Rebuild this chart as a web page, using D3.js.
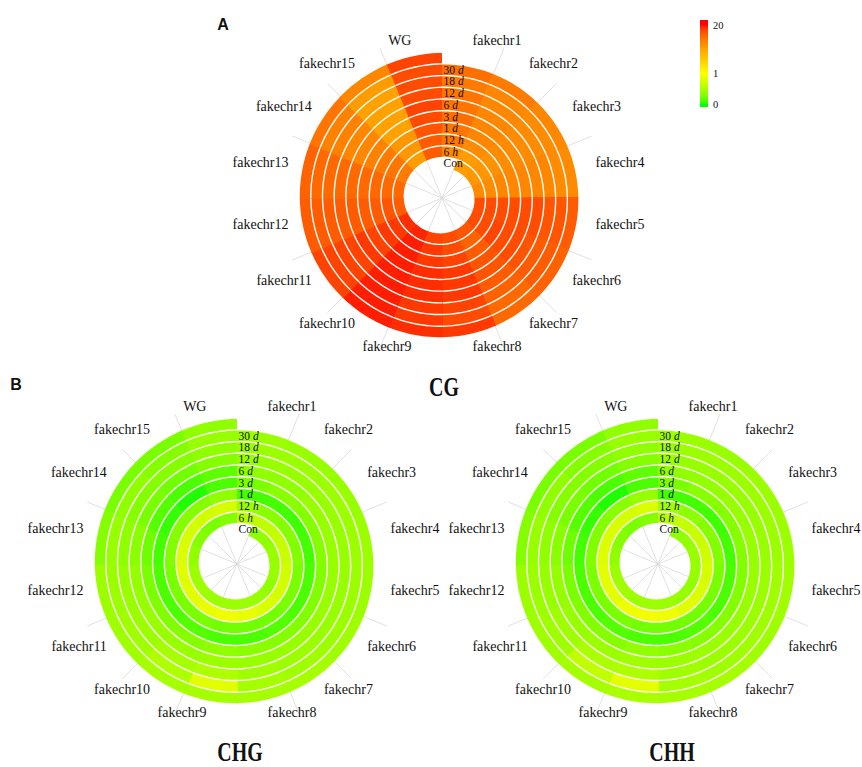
<!DOCTYPE html>
<html>
<head>
<meta charset="utf-8">
<script src="https://cdn.jsdelivr.net/npm/d3@7"></script>
<style>
  body { margin: 0; background: #fff; }
  text { font-family: "Liberation Serif", "Times New Roman", serif; fill: #111; }
</style>
</head>
<body>
<svg id="fig" width="862" height="767"></svg>
<script>
// categories
const chroms = ['WG', 'fakechr1', 'fakechr2', 'fakechr3', 'fakechr4', 'fakechr5', 'fakechr6', 'fakechr7',
  'fakechr8', 'fakechr9', 'fakechr10', 'fakechr11', 'fakechr12', 'fakechr13', 'fakechr14', 'fakechr15'];
const times = [['Con', ''], ['6 ', 'h'], ['12 ', 'h'], ['1 ', 'd'], ['3 ', 'd'], ['6 ', 'd'], ['12 ', 'd'], ['18 ', 'd'], ['30 ', 'd']];
const legendTicks = [0, 1, 20];

// CG, one array per time point, values in chroms order
const cgCon = [16.5, null, 11, 11.5, 12.5, 17.5, 17.5, 17, 17.5, 18, 19.3, 19, 16.5, 15.5, 14, 11];
const cg6h  = [16.5, 13, 11, 11.5, 12.5, 17.5, 17.5, 16, 17.5, 18.5, 19.5, 18.5, 17, 15.5, 14.5, 11.5];
const cg12h = [17, 14.5, 12.5, 12, 13, 17.5, 18, 16.5, 18, 18.5, 19.5, 18.5, 16.5, 15.5, 14, 11.5];
const cg1d  = [17.5, 14.5, 13, 12.5, 13, 17.5, 17.5, 17, 18.5, 19, 19.5, 18, 16.5, 15.5, 13.5, 10.5];
const cg3d  = [18, 15, 13, 12.5, 13, 17.5, 17.5, 17, 18.5, 19, 19.5, 18.5, 16.5, 15.5, 13, 10.5];
const cg6d  = [17.5, 14.5, 13, 12.5, 13, 17.5, 17, 16.5, 18.5, 19, 19.5, 18, 16.5, 15.5, 13, 10.5];
const cg12d = [17.5, 14.5, 13, 12.5, 13, 17, 16.5, 16, 18, 18.5, 19.5, 18, 16.5, 15.5, 13.5, 10.5];
const cg18d = [17.5, 14, 13, 12.5, 12.5, 17, 16.5, 15.5, 17.5, 18.5, 19.5, 18, 16.5, 15.5, 13.5, 11];
const cg30d = [18, 15, 14, 13, 12.5, 16.5, 16, 15.5, 18.5, 19, 19.5, 18, 16.5, 16, 14.5, 13];

// CHG
const chgCon = [0.3, null, 0.35, 0.35, 0.38, 0.38, 0.35, 0.38, 0.4, 0.4, 0.4, 0.42, 0.4, 0.35, 0.3, 0.25];
const chg6h  = [0.72, 0.55, 0.6, 0.62, 0.65, 0.7, 0.72, 0.75, 0.85, 0.9, 0.85, 0.8, 0.78, 0.75, 0.72, 0.7];
const chg12h = [0.35, 0.4, 0.32, 0.3, 0.28, 0.25, 0.25, 0.22, 0.22, 0.22, 0.25, 0.25, 0.25, 0.28, 0.3, 0.3];
const chg1d  = [0.1, 0.08, 0.08, 0.07, 0.08, 0.1, 0.1, 0.12, 0.1, 0.1, 0.12, 0.1, 0.1, 0.08, 0.05, 0.02];
const chg3d  = [0.15, 0.25, 0.32, 0.3, 0.3, 0.28, 0.28, 0.3, 0.32, 0.35, 0.3, 0.28, 0.25, 0.2, 0.12, 0.1];
const chg6d  = [0.3, 0.35, 0.35, 0.38, 0.38, 0.38, 0.38, 0.38, 0.38, 0.4, 0.38, 0.38, 0.36, 0.32, 0.25, 0.22];
const chg12d = [0.35, 0.38, 0.38, 0.38, 0.38, 0.38, 0.38, 0.4, 0.42, 0.5, 0.45, 0.4, 0.38, 0.35, 0.3, 0.3];
const chg18d = [0.38, 0.4, 0.4, 0.4, 0.4, 0.4, 0.4, 0.42, 0.45, 0.8, 0.5, 0.42, 0.4, 0.38, 0.35, 0.3];
const chg30d = [0.35, 0.4, 0.38, 0.38, 0.4, 0.4, 0.42, 0.45, 0.45, 0.45, 0.45, 0.42, 0.4, 0.3, 0.25, 0.25];

// CHH
const chhCon = [0.3, null, 0.35, 0.36, 0.38, 0.38, 0.36, 0.38, 0.4, 0.42, 0.4, 0.42, 0.4, 0.35, 0.3, 0.25];
const chh6h  = [0.75, 0.55, 0.62, 0.65, 0.68, 0.72, 0.75, 0.8, 0.88, 0.92, 0.88, 0.82, 0.8, 0.78, 0.75, 0.72];
const chh12h = [0.38, 0.42, 0.33, 0.3, 0.28, 0.25, 0.24, 0.22, 0.22, 0.22, 0.25, 0.25, 0.26, 0.28, 0.3, 0.32];
const chh1d  = [0.1, 0.08, 0.08, 0.07, 0.08, 0.1, 0.1, 0.12, 0.1, 0.1, 0.12, 0.1, 0.1, 0.08, 0.05, 0.02];
const chh3d  = [0.15, 0.25, 0.32, 0.3, 0.3, 0.28, 0.3, 0.3, 0.32, 0.35, 0.3, 0.28, 0.25, 0.2, 0.12, 0.1];
const chh6d  = [0.3, 0.35, 0.36, 0.38, 0.38, 0.38, 0.38, 0.4, 0.4, 0.42, 0.4, 0.38, 0.36, 0.32, 0.25, 0.22];
const chh12d = [0.35, 0.38, 0.38, 0.38, 0.38, 0.4, 0.4, 0.4, 0.42, 0.5, 0.48, 0.42, 0.38, 0.35, 0.3, 0.3];
const chh18d = [0.38, 0.4, 0.4, 0.4, 0.4, 0.42, 0.42, 0.42, 0.45, 0.82, 0.6, 0.42, 0.4, 0.38, 0.35, 0.3];
const chh30d = [0.35, 0.4, 0.38, 0.4, 0.4, 0.42, 0.42, 0.45, 0.45, 0.48, 0.45, 0.42, 0.4, 0.3, 0.25, 0.25];

const panels = [
  { title: 'CG', cx: 442, cy: 198, tx: 444, ty: 387, rows: [cgCon, cg6h, cg12h, cg1d, cg3d, cg6d, cg12d, cg18d, cg30d] },
  { title: 'CHG', cx: 237, cy: 564, tx: 240, ty: 752, rows: [chgCon, chg6h, chg12h, chg1d, chg3d, chg6d, chg12d, chg18d, chg30d] },
  { title: 'CHH', cx: 658, cy: 564, tx: 672, ty: 752, rows: [chhCon, chh6h, chh12h, chh1d, chh3d, chh6d, chh12d, chh18d, chh30d] }
];

const r0 = 28.8, pitch = 11.7, gap = 1.4;
const labelR = 156.5, spokeR = 162;
const n = chroms.length;

const svg = d3.select('#fig');
const color = d3.scaleLinear().domain([0, 1, 20]).range(['#00ff00', '#ffff00', '#ff0000'])
  .interpolate(d3.interpolateLab).clamp(true);
const angle = d3.scaleLinear().domain([0, n]).range([0, 2 * Math.PI]);
const radius = d3.scaleLinear().domain([0, times.length + 1]).range([r0, r0 + pitch * (times.length + 1)]);
// WG closes each turn, fakechr1 opens it
const slot = i => (i + n - 1) % n;

function drawSpiral(p) {
  const g = svg.append('g').attr('transform', `translate(${p.cx},${p.cy})`);

  // polar lines
  const spokes = d3.range(n).filter(k => k % 4 !== 0);
  g.append('g').selectAll('line').data(spokes).join('line')
    .attr('x1', 0).attr('y1', 0)
    .attr('x2', k => spokeR * Math.sin(angle(k)))
    .attr('y2', k => -spokeR * Math.cos(angle(k)))
    .attr('stroke', '#d9d9d9').attr('stroke-width', 0.8);

  const cells = [];
  p.rows.forEach((vals, ti) => vals.forEach((v, ci) => {
    if (v != null) cells.push({ ti, s: slot(ci), v });
  }));

  const cellPath = d => {
    const start = d.s === 0 ? 0 : d.s - 0.02;
    const pts = d3.range(0, 13).map(k => start + (d.s + 1 - start) * k / 12);
    return d3.areaRadial()
      .angle(t => angle(t))
      .innerRadius(t => radius(d.ti + t / n) + gap / 2)
      .outerRadius(t => radius(d.ti + 1 + t / n) - gap / 2)(pts);
  };

  g.append('g').selectAll('path').data(cells).join('path')
    .attr('d', cellPath)
    .attr('fill', d => color(d.v));

  // row labels at the start of each turn
  const rl = g.append('g').selectAll('text').data(times).join('text')
    .attr('x', 1.5)
    .attr('y', (d, i) => -radius(i + 0.5))
    .attr('dominant-baseline', 'central')
    .style('font-size', '11.5px');
  rl.append('tspan').text(d => d[0]);
  rl.append('tspan').style('font-style', 'italic').text(d => d[1]);

  // chromosome labels
  g.append('g').selectAll('text').data(chroms).join('text')
    .attr('x', (d, i) => labelR * Math.sin(angle(slot(i) + 0.5)))
    .attr('y', (d, i) => -4.5 - labelR * Math.cos(angle(slot(i) + 0.5)))
    .attr('text-anchor', (d, i) => Math.sin(angle(slot(i) + 0.5)) > 0 ? 'start' : 'end')
    .attr('dominant-baseline', 'central')
    .style('font-size', '14px')
    .text(d => d);

  svg.append('text')
    .attr('transform', `translate(${p.tx},${p.ty}) scale(0.74,1)`)
    .attr('text-anchor', 'middle')
    .attr('dominant-baseline', 'central')
    .style('font-size', '27px')
    .style('font-weight', 'bold')
    .text(p.title);
}

panels.forEach(drawSpiral);

// panel tags
svg.append('text').attr('x', 223).attr('y', 30).attr('text-anchor', 'middle')
  .style('font-family', '"Liberation Sans", Arial, sans-serif').style('font-weight', 'bold').style('font-size', '16px').text('A');
svg.append('text').attr('x', 16).attr('y', 390).attr('text-anchor', 'middle')
  .style('font-family', '"Liberation Sans", Arial, sans-serif').style('font-weight', 'bold').style('font-size', '16px').text('B');

// legend
const legY = d3.scaleLinear().domain(legendTicks).range([104, 73, 25]);
const barTop = 20, barBot = 107;
const grad = svg.append('defs').append('linearGradient').attr('id', 'leg')
  .attr('x1', 0).attr('y1', 0).attr('x2', 0).attr('y2', 1);
grad.selectAll('stop').data(d3.range(0, 41)).join('stop')
  .attr('offset', k => k / 40)
  .attr('stop-color', k => {
    const v = Math.max(0, Math.min(20, legY.invert(barTop + (barBot - barTop) * k / 40)));
    return color(v);
  });
svg.append('rect').attr('x', 700).attr('y', barTop).attr('width', 8).attr('height', barBot - barTop)
  .attr('fill', 'url(#leg)');
svg.append('g').selectAll('text').data(legendTicks).join('text')
  .attr('x', 713).attr('y', d => legY(d))
  .attr('dominant-baseline', 'central')
  .style('font-size', '10.5px')
  .text(d => d);
</script>
</body>
</html>
